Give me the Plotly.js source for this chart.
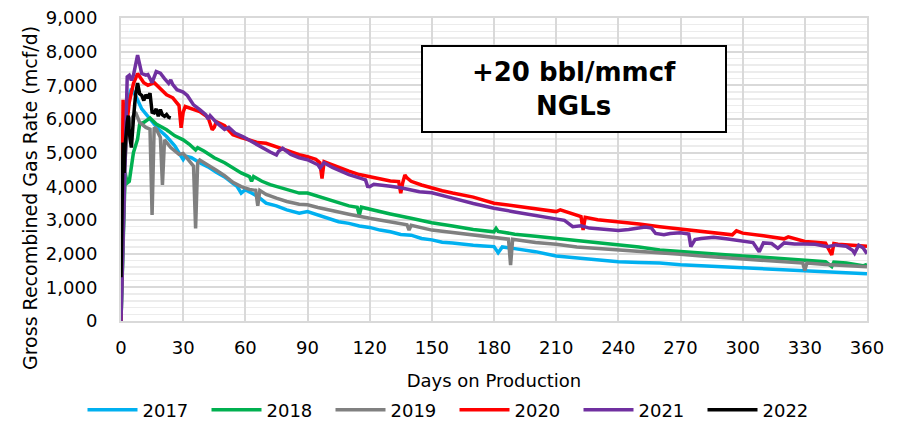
<!DOCTYPE html>
<html>
<head>
<meta charset="utf-8">
<script src="https://cdn.plot.ly/plotly-3.0.1.min.js"></script>
<style>html,body{margin:0;padding:0;background:#fff;}#chart{width:897px;height:424px;}</style>
</head>
<body>
<div id="chart"></div>
<script>
// ---- Data ----
const seriesNames = ["2017", "2018", "2019", "2020", "2021", "2022"];

const days2017 = [0,1,2,3,5,7,10,12,15,18,22,26,28,30,31,34,38,42,46,50,54,56,58,60,63,66,70,75,80,86,90,95,100,105,110,115,120,125,130,135,140,145,150,155,160,165,170,175,180,182,184,190,200,210,220,230,240,250,260,270,280,290,300,310,320,330,340,350,360];
const rate2017 = [100,5000,5800,6500,6900,6700,6300,6150,5950,5700,5480,5200,4990,4800,4900,4850,4700,4580,4420,4280,4090,4000,3800,3900,3800,3700,3500,3420,3300,3200,3250,3150,3050,2950,2900,2820,2780,2700,2650,2570,2550,2450,2410,2340,2320,2280,2250,2230,2210,2030,2200,2150,2060,1930,1880,1830,1760,1740,1720,1670,1640,1610,1570,1550,1520,1490,1460,1430,1400];

const days2018 = [0,1,2,3,4,6,8,9,11,14,17,22,26,30,33,36,37,40,45,50,54,58,62,63,64,68,72,78,86,90,95,100,105,110,114,115,116,120,130,140,150,160,170,180,181,182,190,200,210,220,230,240,250,260,270,280,290,300,310,320,330,340,343,344,350,358,360];
const rate2018 = [0,2500,4400,4100,4150,5000,5400,5850,5900,6030,5850,5680,5500,5380,5250,5080,5150,5050,4850,4700,4550,4400,4290,4150,4290,4150,4050,3950,3800,3800,3700,3600,3520,3420,3380,3150,3380,3330,3180,3050,2920,2820,2720,2650,2750,2660,2580,2520,2460,2390,2320,2260,2200,2110,2060,2010,1960,1930,1890,1850,1800,1760,1620,1750,1720,1640,1680];

const days2019 = [0,1,2,3,5,7,9,12,14,15,16,17,19,20,21,24,28,30,33,35,36,37,38,42,46,50,54,58,62,65,66,67,70,75,80,86,90,95,100,110,120,130,138,139,140,150,160,170,180,187,188,189,200,210,220,230,240,250,260,270,280,290,300,310,320,329,330,331,340,350,360];
const rate2019 = [0,2500,4800,5600,6000,6200,5900,5750,5700,3150,5750,5700,5450,4040,5380,5150,4950,4980,4750,4600,2750,4700,4780,4640,4480,4320,4120,3990,3910,3880,3420,3880,3760,3650,3550,3470,3450,3370,3300,3170,3050,2940,2860,2700,2840,2700,2620,2560,2460,2430,1660,2430,2330,2280,2200,2160,2110,2060,2020,1980,1930,1890,1840,1800,1760,1720,1500,1720,1680,1640,1610];

const days2020 = [0,1,2,3,4,6,8,11,13,16,19,22,25,28,29,30,31,34,38,42,44,45,46,50,54,58,62,66,70,77,82,86,90,94,96,97,98,100,105,110,115,120,125,130,134,135,136,137,138,140,145,150,155,160,170,180,190,200,205,210,212,218,222,223,224,230,240,250,260,270,275,280,285,290,295,297,300,310,320,322,325,330,335,340,343,344,346,350,355,360];
const rate2020 = [0,6570,5400,6050,6500,7050,7350,7080,7000,7080,6900,6720,6630,6400,5740,6200,6370,6300,6220,6050,5680,5750,5920,5800,5530,5450,5380,5300,5280,5130,5020,4940,4880,4800,4700,4230,4730,4680,4560,4450,4350,4290,4230,4160,4140,3800,4120,4340,4250,4150,4040,3950,3870,3800,3680,3500,3410,3330,3300,3250,3300,3170,3100,2705,3080,3010,2950,2880,2800,2730,2700,2660,2620,2580,2560,2680,2610,2530,2440,2500,2440,2360,2340,2310,1960,2300,2280,2260,2240,2220];

const days2021 = [0,2,3,4,5,6,8,10,12,13,15,17,19,21,23,24,25,27,30,32,35,38,41,42,43,46,50,52,55,59,63,67,72,75,76,78,82,86,90,93,95,96,98,102,106,110,115,118,119,120,122,126,130,135,140,144,150,155,160,170,180,190,200,210,214,218,222,226,230,235,240,245,250,253,256,258,262,265,270,274,275,277,280,286,292,300,305,308,310,314,317,320,325,330,335,341,345,350,353,354,356,358,360];
const rate2021 = [0,5000,7250,7300,7150,7300,7900,7350,7300,7320,7080,7410,7360,7200,7060,7160,7020,6870,6800,6700,6420,6280,6120,6000,6100,5900,5690,5750,5580,5470,5330,5180,5020,4930,5040,5130,4950,4850,4790,4700,4640,4550,4700,4560,4450,4350,4250,4190,4000,3990,4060,4020,4000,3960,3900,3840,3810,3720,3650,3490,3350,3240,3140,3050,2990,2800,2830,2760,2740,2700,2690,2720,2780,2790,2760,2600,2560,2600,2620,2580,2210,2420,2450,2490,2440,2360,2330,2060,2320,2300,2160,2320,2290,2290,2280,2210,2260,2220,2100,2012,2250,2180,2000];

const days2022 = [0,0.5,1,1.5,2,3,3.5,4,5,6,7,8,9,10,11,12,13,14,15,16,17,18,19,20,21,22,23,24];
const rate2022 = [1300,4500,5300,4400,5200,5900,6100,5600,5150,6000,6700,7070,6750,6700,6550,6720,6620,6770,6200,6180,6300,6080,6280,6120,6080,6130,6050,6030];

const xTickVals = [0,30,60,90,120,150,180,210,240,270,300,330,360];
const yTickVals = [0,1000,2000,3000,4000,5000,6000,7000,8000,9000];

const seriesColors = ["#00B0F0", "#00B050", "#808080", "#FF0000", "#7030A0", "#000000"];
const allDays = [days2017, days2018, days2019, days2020, days2021, days2022];
const allRates = [rate2017, rate2018, rate2019, rate2020, rate2021, rate2022];

const FONT = "DejaVu Sans, Verdana, sans-serif";

const traces = seriesNames.map((name, i) => ({
  type: "scatter",
  mode: "lines",
  name: name,
  x: allDays[i],
  y: allRates[i],
  line: {color: seriesColors[i], width: 3.5},
  hoverinfo: "skip"
}));

const layout = {
  width: 897,
  height: 424,
  margin: {l: 121, r: 30, t: 18, b: 103},
  paper_bgcolor: "#ffffff",
  plot_bgcolor: "#ffffff",
  font: {family: FONT, size: 18, color: "#000000"},
  showlegend: true,
  legend: {
    orientation: "h",
    xref: "container", yref: "container",
    x: 82.5 / 897, xanchor: "left",
    y: 1 - 410 / 424, yanchor: "middle",
    font: {family: FONT, size: 18, color: "#000000"},
    entrywidth: 59, entrywidthmode: "pixels",
    itemwidth: 50,
    bgcolor: "rgba(0,0,0,0)",
    traceorder: "normal"
  },
  xaxis: {
    range: [0, 360],
    tickvals: xTickVals,
    ticktext: xTickVals.map(String),
    showgrid: true, gridcolor: "#d9d9d9", gridwidth: 2,
    zeroline: false,
    showline: true, linecolor: "#d9d9d9", linewidth: 2, mirror: true,
    ticks: "outside", ticklen: 9, tickcolor: "rgba(0,0,0,0)",
    tickfont: {family: FONT, size: 18, color: "#000000"},
    title: {text: "Days on Production", font: {family: FONT, size: 18, color: "#000000"}, standoff: 30}
  },
  yaxis: {
    range: [0, 9000],
    tickvals: yTickVals,
    tickformat: ",d",
    showgrid: true, gridcolor: "#d9d9d9", gridwidth: 2,
    minor: {dtick: 200, showgrid: true, gridcolor: "#ececec", gridwidth: 1.5},
    zeroline: false,
    showline: true, linecolor: "#d9d9d9", linewidth: 2, mirror: true,
    ticks: "outside", ticklen: 18, tickcolor: "rgba(0,0,0,0)",
    tickfont: {family: FONT, size: 18, color: "#000000"}
  },
  annotations: [{
    // y-axis title, placed where the reference puts it (below the plot centre)
    xref: "paper", yref: "paper",
    x: (30 - 121) / 746, y: (321 - 198) / 303,
    xanchor: "center", yanchor: "middle",
    text: "Gross Recombined Gas Rate (mcf/d)",
    textangle: -90,
    showarrow: false,
    font: {family: FONT, size: 19, color: "#000000"}
  }, {
    xref: "paper", yref: "paper",
    x: (574 - 121) / 746, y: (321 - 88.5) / 303,
    xanchor: "center", yanchor: "middle",
    text: "<b>+20 bbl/mmcf<br>NGLs</b>",
    showarrow: false,
    font: {family: FONT, size: 26, color: "#000000"},
    bgcolor: "#ffffff",
    bordercolor: "#000000", borderwidth: 2,
    width: 300, height: 82,
    align: "center"
  }]
};

Plotly.newPlot("chart", traces, layout, {staticPlot: true, displayModeBar: false});
</script>
</body>
</html>
